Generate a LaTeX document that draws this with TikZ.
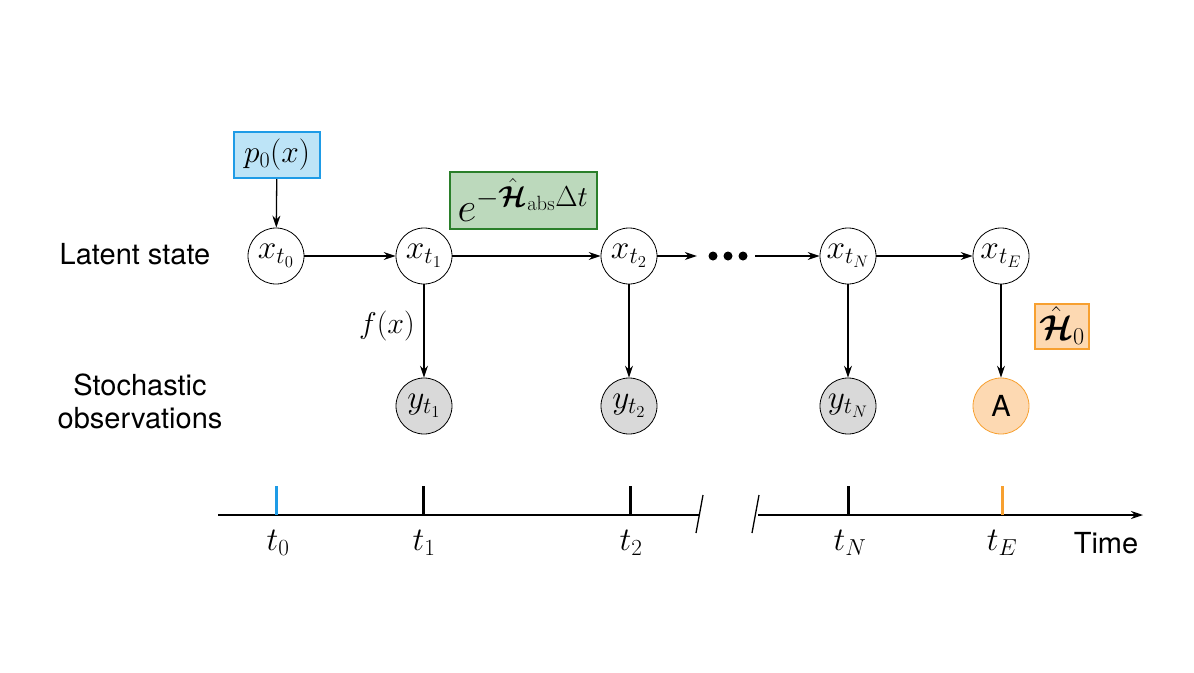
\RequirePackage{fix-cm}
\documentclass[tikz,border=0pt]{standalone}
\usepackage{graphicx}
\usepackage{fontspec}
\usepackage{amsmath,bm}
\newfontfamily\helv{TeX Gyre Heros}
\usetikzlibrary{arrows.meta}
\newcommand\smath[2]{\scalebox{#1}{$#2$}}
\definecolor{bluefill}{HTML}{BDE4F7}
\definecolor{blueline}{HTML}{1E9BE6}
\definecolor{greenfill}{HTML}{BCD9BC}
\definecolor{greenline}{HTML}{2A7F2A}
\definecolor{orangefill}{HTML}{FDD9B2}
\definecolor{orangeline}{HTML}{F7A030}
\definecolor{obsfill}{HTML}{D9D9D9}
\tikzset{
  arr/.style={-{Stealth[length=12pt,width=8pt]}, line width=1.3pt},
  latent/.style={circle, draw, line width=0.8pt, minimum size=56pt, inner sep=0pt, font=\fontsize{29}{34}\selectfont},
  obs/.style={latent, fill=obsfill},
  lbl/.style={font=\helv\fontsize{29}{34}\selectfont, align=center},
  mth/.style={font=\fontsize{30}{36}\selectfont},
  tick/.style={line width=3pt},
}
\begin{document}
\begin{tikzpicture}[x=1pt,y=-1pt]
\useasboundingbox (0,0) rectangle (1194,672);
% latent nodes
\node[latent] (x0) at (276,256) {\smath{1.15}{x_{t_0}}};
\node[latent] (x1) at (424,256) {\smath{1.15}{x_{t_1}}};
\node[latent] (x2) at (629,256) {\smath{1.15}{x_{t_2}}};
\node[latent] (xN) at (848,256) {\smath{1.15}{x_{t_N}}};
\node[latent] (xE) at (1001,256) {\smath{1.15}{x_{t_E}}};
% observations
\node[obs] (y1) at (424,406) {\smath{1.15}{y_{t_1}}};
\node[obs] (y2) at (629,406) {\smath{1.15}{y_{t_2}}};
\node[obs] (yN) at (848,406) {\smath{1.15}{y_{t_N}}};
\node[latent, fill=orangefill, draw=orangeline, font=\helv\fontsize{29}{34}\selectfont] (A) at (1001,406) {A};
% boxes
\node[draw=blueline, fill=bluefill, line width=2pt, minimum width=86pt, minimum height=46pt, inner sep=0pt, mth] (p0) at (277,155) {\smath{1.05}{p_0(x)}};
\node[draw=greenline, fill=greenfill, line width=2pt, minimum width=147pt, minimum height=57pt, inner sep=0pt, font=\fontsize{33}{40}\selectfont] (U) at (523,200) {\smath{1.25}{e^{-\hat{\bm{\mathcal{H}}}_{\mathrm{abs}}\Delta t}}};
\node[draw=orangeline, fill=orangefill, line width=2pt, minimum width=54pt, minimum height=45pt, inner sep=0pt, mth] (H0) at (1062,326) {\smath{1.15}{\hat{\bm{\mathcal{H}}}_0}};
% dots
\node[minimum width=58pt, minimum height=10pt, inner sep=0pt] (dots) at (726,256) {};
\foreach \dx in {713,728,743} \fill (\dx,256) circle (4.5pt);
% labels
\node[lbl] (lat) at (135,254) {Latent state};
\node[lbl, font=\helv\fontsize{29}{33}\selectfont] (sto) at (140,401) {Stochastic\\observations};
\node[mth] (fx) at (387,326) {$f(x)$};
% arrows
\draw[arr] (p0) -- (x0);
\draw[arr] (x0) -- (x1);
\draw[arr] (x1) -- (x2);
\draw[arr] (x2) -- (dots.west);
\draw[arr] (dots.east) -- (xN);
\draw[arr] (xN) -- (xE);
\draw[arr] (x1) -- (y1);
\draw[arr] (x2) -- (y2);
\draw[arr] (xN) -- (yN);
\draw[arr] (xE) -- (A);
% time axis
\coordinate (a0) at (218,515);
\coordinate (b1) at (699,515);
\coordinate (b2) at (758,515);
\coordinate (aE) at (1143,515);
\draw[line width=1.3pt] (a0) -- (b1);
\draw[arr] (b2) -- (aE);
\coordinate (s1a) at (696,533); \coordinate (s1b) at (703,495);
\coordinate (s2a) at (752,533); \coordinate (s2b) at (759,495);
\draw[line width=1.3pt] (s1a) -- (s1b);
\draw[line width=1.3pt] (s2a) -- (s2b);
\draw[tick, draw=blueline] (276,486) -- (276,515);
\draw[tick] (423,486) -- (423,515);
\draw[tick] (630,486) -- (630,515);
\draw[tick] (848,486) -- (848,515);
\draw[tick, draw=orangeline] (1002,486) -- (1002,515);
\node[mth] (t0) at (278,543) {\smath{1.1}{t_0}};
\node[mth] (t1) at (424,543) {\smath{1.1}{t_1}};
\node[mth] (t2) at (631,543) {\smath{1.1}{t_2}};
\node[mth] (tN) at (850,543) {\smath{1.1}{t_N}};
\node[mth] (tE) at (1002,543) {\smath{1.1}{t_E}};
\node[lbl] (time) at (1106,543) {Time};
\end{tikzpicture}
\end{document}
